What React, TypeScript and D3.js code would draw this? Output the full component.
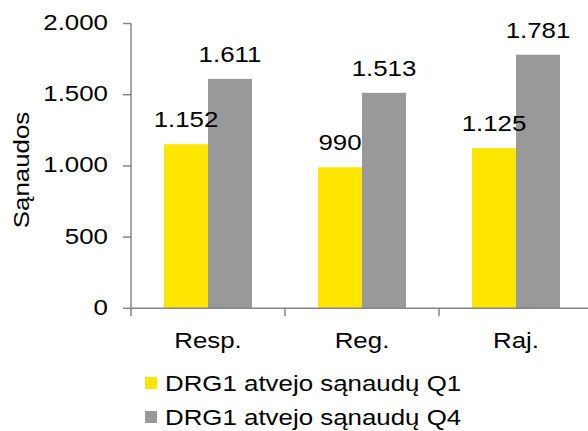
import React from "react";
import * as d3 from "d3";

const categories = ["Resp.", "Reg.", "Raj."];
const seriesNames = ["DRG1 atvejo sąnaudų Q1", "DRG1 atvejo sąnaudų Q4"];
const q1Values = [1152, 990, 1125];
const q4Values = [1611, 1513, 1781];
const yTicks = [0, 500, 1000, 1500, 2000];
const seriesColors = ["#FFE600", "#999999"];
const yTitle = "Sąnaudos";

const W = 588;
const H = 431;
const FONT = "'Liberation Sans', Arial, sans-serif";
const FS = 22.5;
const SX = 1.15;

const locale = d3.formatLocale({ decimal: ",", thousands: ".", grouping: [3], currency: ["", ""] });
const fmt = locale.format(",d");

export default function App() {
  const left = 131;
  const right = 593;
  const top = 23.5;
  const bottom = 308.3;
  const x = d3.scaleBand<string>().domain(categories).range([left, right]).padding(0);
  const inner = d3.scaleBand<number>().domain([0, 1]).range([0, x.bandwidth()]).paddingInner(0).paddingOuter(0.75);
  const y = d3.scaleLinear().domain([0, 2000]).range([bottom, top]);
  const values = [q1Values, q4Values];
  const axisColor = "#868686";

  const T = (props: { x: number; y: number; anchor?: string; rotate?: number; children: React.ReactNode }) => (
    <text
      transform={`translate(${props.x},${props.y})${props.rotate ? ` rotate(${props.rotate})` : ""} scale(${SX},1)`}
      textAnchor={props.anchor || "start"}
      fontFamily={FONT}
      fontSize={FS}
      fill="#000"
    >
      {props.children}
    </text>
  );

  return (
    <svg width={W} height={H} style={{ position: "absolute", left: 0, top: 0 }}>
      <rect x={0} y={0} width={W} height={H} fill="#fff" />
      {categories.map((c, ci) =>
        values.map((vals, si) => {
          const bx = (x(c) as number) + (inner(si) as number);
          const bw = inner.bandwidth();
          return (
            <rect key={`${ci}-${si}`} x={bx} y={y(vals[ci])} width={bw} height={bottom - y(vals[ci])} fill={seriesColors[si]} />
          );
        })
      )}
      {categories.map((c, ci) =>
        values.map((vals, si) => {
          const cx = (x(c) as number) + (inner(si) as number) + inner.bandwidth() / 2;
          return (
            <T key={`l-${ci}-${si}`} x={cx} y={y(vals[ci]) - 17} anchor="middle">
              {fmt(vals[ci])}
            </T>
          );
        })
      )}
      <line x1={left} x2={left} y1={top} y2={bottom} stroke={axisColor} strokeWidth={1.5} />
      {yTicks.map((t) => (
        <g key={t}>
          <line x1={left - 8} x2={left} y1={y(t)} y2={y(t)} stroke={axisColor} strokeWidth={1.5} />
          <T x={108} y={y(t) + 6.5} anchor="end">
            {fmt(t)}
          </T>
        </g>
      ))}
      <line x1={left} x2={right} y1={bottom} y2={bottom} stroke={axisColor} strokeWidth={1.5} />
      {[...categories.map((c) => x(c) as number), right].map((px, i) => (
        <line key={i} x1={px} x2={px} y1={bottom} y2={bottom + 8} stroke={axisColor} strokeWidth={1.5} />
      ))}
      {categories.map((c) => (
        <T key={c} x={(x(c) as number) + x.bandwidth() / 2} y={348} anchor="middle">
          {c}
        </T>
      ))}
      <T x={28.5} y={170} anchor="middle" rotate={-90}>
        {yTitle}
      </T>
      {seriesNames.map((n, i) => (
        <g key={n}>
          <rect x={145} y={377 + i * 34} width={12} height={12} fill={seriesColors[i]} />
          <T x={165} y={391 + i * 34}>
            {n}
          </T>
        </g>
      ))}
    </svg>
  );
}
